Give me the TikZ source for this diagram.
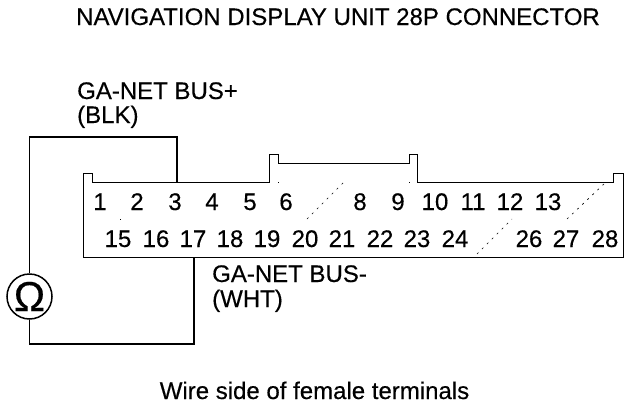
\documentclass[tikz,border=0pt]{standalone}
\usepackage{fontspec}
\setmainfont[FakeBold=0.35]{Liberation Sans}
\newcommand{\pinfont}{\fontsize{24}{26}\selectfont}
\tikzset{
  x=1pt,y=-1pt,
  txt/.style={inner sep=0pt,font=\pinfont,text=black},
  lab/.style={txt,anchor=base west,align=left},
  pin/.style={txt,anchor=base},
  shell/.style={draw=black,line width=1pt,line join=miter},
  wire/.style={draw=black,line width=1.5pt,line join=miter},
  brk/.style={draw=black,line width=.6pt,dash pattern=on 2pt off 5pt},
  speck/.style={fill=black,inner sep=0pt,minimum size=1pt,shape=rectangle},
  meter/.style={draw=black,line width=1.5pt,circle,minimum size=45pt,inner sep=0pt,font=\fontsize{42}{42}\selectfont}
}
\begin{document}
\begin{tikzpicture}
\useasboundingbox[fill=white] (0,0) rectangle (640,410);
\node[txt,anchor=base] (title) at (338,25) {NAVIGATION DISPLAY UNIT 28P CONNECTOR};
\node[lab] (blk) at (77,99) {GA-NET BUS+};
\node[lab] (blkc) at (77,123) {(BLK)};
\node[lab] (wht) at (212,282) {GA-NET BUS-};
\node[lab] (whtc) at (212,307) {(WHT)};
\node[txt,anchor=base] (side) at (314.5,399) {Wire side of female terminals};
\draw[shell] (83,257) -- (83,173) -- (92,173) -- (92,182) -- (269,182) -- (269,154.5) -- (278,154.5) -- (278,163.5) -- (409,163.5) -- (409,154.5) -- (417,154.5) -- (417,182) -- (613,182) -- (613,173) -- (623,173) -- (623,257) -- cycle;
\foreach \n/\px in {1/100,2/137,3/175,4/212,5/250,6/286,8/360,9/398,10/435,11/473,12/510,13/548}
  \node[pin] (p\n) at (\px,210) {\n};
\foreach \n/\px in {15/118,16/156,17/193,18/230,19/267,20/305,21/342,22/380,23/417,24/455,26/529,27/566,28/605}
  \node[pin] (p\n) at (\px,247) {\n};
\coordinate (b1) at (307,219); \coordinate (b2) at (344,182);
\coordinate (b3) at (477,254); \coordinate (b4) at (512,219);
\coordinate (b5) at (567,219); \coordinate (b6) at (605,183);
\draw[brk] (b1) -- (b2);
\draw[brk] (b3) -- (b4);
\draw[brk] (b5) -- (b6);
\node[speck] (s1) at (120,219) {};
\node[speck] (s2) at (278.5,182) {};
\node[speck] (s3) at (409.5,182) {};
\node[meter] (ohm) at (29.5,296.5) {Ω};
\coordinate (top) at (177,182);
\coordinate (bot) at (194,257);
\draw[wire] (ohm.north) -- (ohm.north |- 0,137) -- (top |- 0,137) -- (top);
\draw[wire] (ohm.south) -- (ohm.south |- 0,344) -- (bot |- 0,344) -- (bot);
\end{tikzpicture}
\end{document}
